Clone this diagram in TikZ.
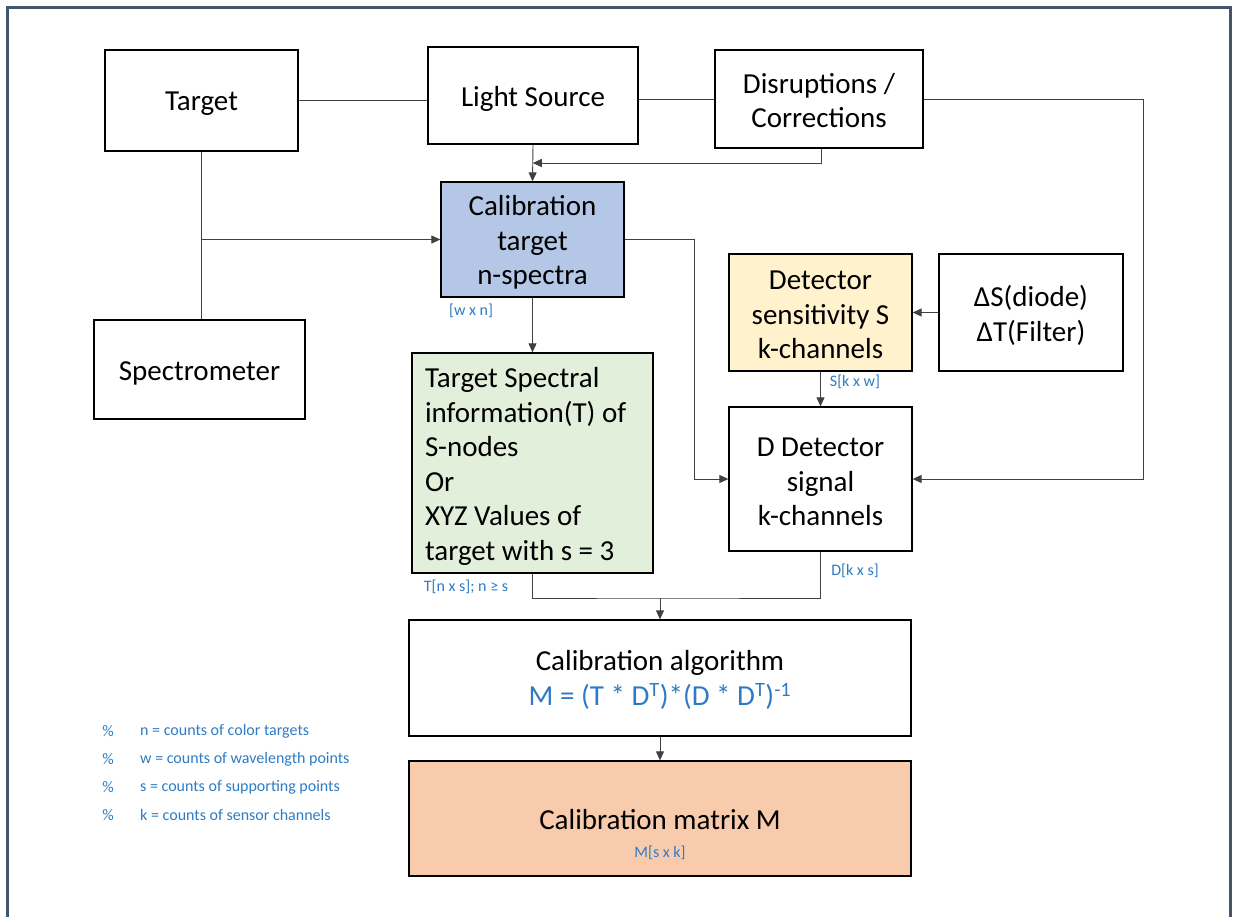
\documentclass[tikz,border=0pt]{standalone}
\usepackage{fontspec}
\setmainfont{Carlito}
\usetikzlibrary{arrows.meta,calc}
\definecolor{frameC}{HTML}{44546A}
\definecolor{lblue}{HTML}{2E7BC4}
\definecolor{fblue}{HTML}{B4C7E7}
\definecolor{fgreen}{HTML}{E2EFDA}
\definecolor{fyellow}{HTML}{FFF2CC}
\definecolor{forange}{HTML}{F8CBAD}
\tikzset{
  box/.style={draw=black, line width=1.3pt, inner sep=0pt},
  txt/.style={inner sep=0pt, align=center, font=\fontsize{29}{34.5}\selectfont},
  conn/.style={draw=black!75, line width=0.9pt},
  arr/.style={conn, -{Triangle[width=8pt,length=9pt]}},
  lbl/.style={text=lblue, font=\fontsize{16}{18}\selectfont, inner sep=0pt},
}
\begin{document}
\begin{tikzpicture}[x=1pt,y=-1pt]
\useasboundingbox (0,0) rectangle (1237,916);
% frame
\draw[frameC, line width=3pt] (7.5,920) -- (7.5,7.5) -- (1230.5,7.5) -- (1230.5,920);

% boxes
\node[box, minimum width=193, minimum height=101] (target) at (201.5,100.5) {};
\node[box, minimum width=210, minimum height=97] (light) at (533,95.5) {};
\node[box, minimum width=208, minimum height=98] (disr) at (819,99) {};
\node[box, fill=fblue, minimum width=183, minimum height=115] (calib) at (532.5,239.5) {};
\node[box, minimum width=211, minimum height=99] (spec) at (199.5,369.5) {};
\node[box, fill=fgreen, minimum width=241, minimum height=220] (tsi) at (532.5,463) {};
\node[box, fill=fyellow, minimum width=183, minimum height=117] (sens) at (820.5,312.5) {};
\node[box, minimum width=184, minimum height=117] (delta) at (1031,312.5) {};
\node[box, minimum width=183, minimum height=144] (det) at (820.5,479) {};
\node[box, minimum width=502, minimum height=116] (algo) at (660,678) {};
\node[box, fill=forange, minimum width=502, minimum height=115] (mat) at (660,818.5) {};

% box texts
\node[txt] (target-t) at ([yshift=-3pt]target.center) {Target};
\node[txt] (light-t) at ([yshift=-3.5pt]light.center) {Light Source};
\node[txt] (disr-t) at ([yshift=-1.5pt]disr.center) {Disruptions /\\Corrections};
\node[txt] (calib-t) at ([yshift=-3pt]calib.center) {Calibration\\target\\n-spectra};
\node[txt] (spec-t) at ([yshift=-3.5pt]spec.center) {Spectrometer};
\node[txt, align=flush left, text width=215] (tsi-t) at ([yshift=-3.5pt]tsi.center)
  {Target Spectral\\information(T) of\\S-nodes\\Or\\XYZ Values of\\target with s = 3};
\node[txt] (sens-t) at ([yshift=-2.5pt]sens.center) {Detector\\sensitivity S\\k-channels};
\node[txt] (delta-t) at ([yshift=-3pt]delta.center) {ΔS(diode)\\ΔT(Filter)};
\node[txt] (det-t) at ([yshift=-3pt]det.center) {D Detector\\signal\\k-channels};
\node[txt] (algo-t) at ([yshift=-2pt]algo.center)
  {Calibration algorithm\\\textcolor{lblue}{M = (T * D\textsuperscript{T})*(D * D\textsuperscript{T})\textsuperscript{-1}}};
\node[txt] (mat-t) at (660,820) {Calibration matrix M};
\node[lbl] (matl) at (660,853) {M[s x k]};

% connectors
\draw[conn] (target.east) -- (light.west |- target.east);
\draw[conn] (light.east |- disr.west) -- (disr.west);
\draw[arr] (disr.east) -- ++(220,0) |- (det.east);
\draw[arr] (light.south) -- (calib.north);
\draw[arr] (disr.south -| 821,0) |- ($(light.south)!0.5!(calib.north)$);
\draw[conn] (target.south) -- (target.south |- spec.north);
\coordinate (br) at (201.5,239.5);
\draw[arr] (br) -- (calib.west);
\draw[arr] (calib.east) -- ++(70,0) |- (det.west);
\draw[arr] (calib.south) -- (tsi.north);
\draw[arr] (delta.west) -- (sens.east);
\draw[arr] (sens.south) -- (det.north);
\coordinate (j) at (660,598);
\draw[conn] (tsi.south) |- (j) -| (det.south);
\draw[arr] (j) -- (algo.north);
\draw[arr] (algo.south) -- (mat.north);

% labels
\node[lbl] (l1) at (471,311) {[w x n]};
\node[lbl] (l2) at (855,382) {S[k x w]};
\node[lbl] (l3) at (466,587) {T[n x s]; n ≥ s};
\node[lbl] (l4) at (855,571) {D[k x s]};

% legend
\foreach \y/\t [count=\i] in {731/n = counts of color targets, 759/w = counts of wavelength points, 787/s = counts of supporting points, 815/k = counts of sensor channels}{
  \node[lbl] (p\i) at (108,\y) {\%};
  \node[lbl, anchor=west] (t\i) at (140,\y) {\t};
}
\end{tikzpicture}
\end{document}
